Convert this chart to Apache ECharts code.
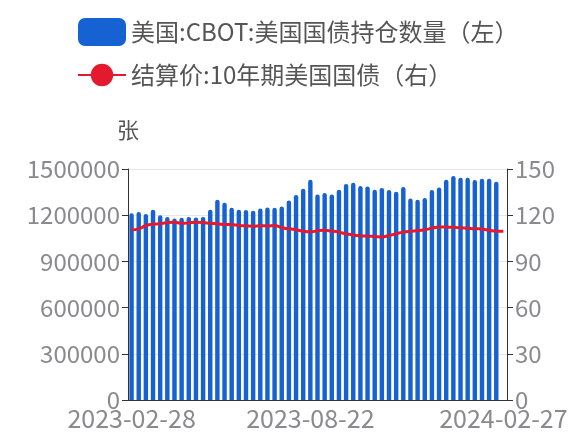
<!DOCTYPE html>
<html>
<head>
<meta charset="utf-8">
<script src="https://cdn.jsdelivr.net/npm/echarts@6/dist/echarts.min.js"></script>
<style>
    html, body { margin: 0; padding: 0; background: #fff; }
    #main { width: 571px; height: 440px; }
</style>
</head>
<body>
<div id="main"></div>
<script>
const dates = [
    '2023-02-28', '2023-03-07', '2023-03-14', '2023-03-21', '2023-03-28', '2023-04-04', '2023-04-11',
    '2023-04-18', '2023-04-25', '2023-05-02', '2023-05-09', '2023-05-16', '2023-05-23', '2023-05-30',
    '2023-06-06', '2023-06-13', '2023-06-20', '2023-06-27', '2023-07-04', '2023-07-11', '2023-07-18',
    '2023-07-25', '2023-08-01', '2023-08-08', '2023-08-15', '2023-08-22', '2023-08-29', '2023-09-05',
    '2023-09-12', '2023-09-19', '2023-09-26', '2023-10-03', '2023-10-10', '2023-10-17', '2023-10-24',
    '2023-10-31', '2023-11-07', '2023-11-14', '2023-11-21', '2023-11-28', '2023-12-05', '2023-12-12',
    '2023-12-19', '2023-12-26', '2024-01-02', '2024-01-09', '2024-01-16', '2024-01-23', '2024-01-30',
    '2024-02-06', '2024-02-13', '2024-02-20', '2024-02-27'
]

// 持仓数量（张）
const holdings = [
    1212000, 1220000, 1207000, 1235000, 1200000, 1189000, 1179000,
    1183000, 1189000, 1185000, 1189000, 1235000, 1300000, 1281000,
    1248000, 1235000, 1233000, 1229000, 1244000, 1250000, 1248000,
    1257000, 1296000, 1331000, 1372000, 1430000, 1335000, 1344000,
    1335000, 1365000, 1402000, 1411000, 1389000, 1387000, 1365000,
    1376000, 1363000, 1352000, 1383000, 1309000, 1300000, 1311000,
    1363000, 1380000, 1430000, 1454000, 1443000, 1443000, 1428000,
    1437000, 1437000, 1417000, '-'
]

// 结算价
const price = [
    110.5, 111.1, 113.3, 114.2, 114.4, 115.3, 115.5,
    114.7, 115.0, 115.5, 115.3, 114.7, 114.4, 113.9,
    113.9, 113.3, 113.1, 112.9, 113.2, 113.0, 113.3,
    111.8, 111.2, 110.5, 109.6, 109.2, 109.9, 110.2,
    109.7, 109.0, 107.9, 107.2, 106.7, 106.4, 106.2,
    105.9, 106.8, 108.0, 109.0, 109.6, 110.0, 110.6,
    111.5, 112.4, 112.3, 112.1, 111.8, 111.5, 111.2,
    111.0, 110.2, 109.6, 109.6
]

const leftTicks = [0, 300000, 600000, 900000, 1200000, 1500000]
const rightTicks = [0, 30, 60, 90, 120, 150]
const shownLabels = [0, 25, 52]
const shownTicks = [0, 25, 50]

const chart = echarts.init(document.getElementById('main'))

const labelColor = '#8a8a8e'
const axisColor = '#333'

let option = {
    animation: false,
    textStyle: {
        fontFamily: 'Noto Sans CJK SC'
    },
    legend: {
        orient: 'vertical',
        left: 72,
        top: 13,
        itemWidth: 48,
        itemHeight: 28,
        itemGap: 17,
        textStyle: {
            fontSize: 24,
            color: '#555'
        },
        data: ['美国:CBOT:美国国债持仓数量（左）', '结算价:10年期美国国债（右）']
    },
    grid: {
        left: 128,
        right: 64,
        top: 169,
        bottom: 40
    },
    xAxis: {
        type: 'category',
        data: dates,
        axisLine: { lineStyle: { color: axisColor } },
        axisTick: {
            interval: (i) => shownTicks.includes(i),
            length: 6,
            lineStyle: { color: axisColor }
        },
        axisLabel: {
            interval: (i) => shownLabels.includes(i),
            fontSize: 25,
            color: labelColor,
            margin: 6
        }
    },
    yAxis: [
        {
            type: 'value',
            name: '张',
            nameGap: 28,
            nameTextStyle: { fontSize: 22, color: '#555' },
            min: leftTicks[0],
            max: leftTicks[leftTicks.length - 1],
            interval: 300000,
            axisLine: { show: true, lineStyle: { color: axisColor } },
            axisTick: { show: true, length: 6, lineStyle: { color: axisColor } },
            axisLabel: { fontSize: 24, color: labelColor, margin: 8, formatter: (v) => String(v) },
            splitLine: { lineStyle: { color: '#e6e6e6' } }
        },
        {
            type: 'value',
            min: rightTicks[0],
            max: rightTicks[rightTicks.length - 1],
            interval: 30,
            axisLine: { show: true, lineStyle: { color: axisColor } },
            axisTick: { show: true, length: 6, lineStyle: { color: axisColor } },
            axisLabel: { fontSize: 24, color: labelColor, margin: 8, formatter: (v) => String(v) },
            splitLine: { show: false }
        }
    ],
    series: [
        {
            name: '美国:CBOT:美国国债持仓数量（左）',
            type: 'bar',
            yAxisIndex: 0,
            data: holdings,
            barCategoryGap: '38%',
            itemStyle: { color: '#1662d2', borderRadius: [3, 3, 0, 0] }
        },
        {
            name: '结算价:10年期美国国债（右）',
            type: 'line',
            yAxisIndex: 1,
            data: price,
            smooth: true,
            showSymbol: false,
            symbol: 'circle',
            symbolSize: 22,
            lineStyle: { width: 3, color: '#e5192d' },
            itemStyle: { color: '#e5192d' }
        }
    ]
}

chart.setOption(option)
</script>
</body>
</html>
